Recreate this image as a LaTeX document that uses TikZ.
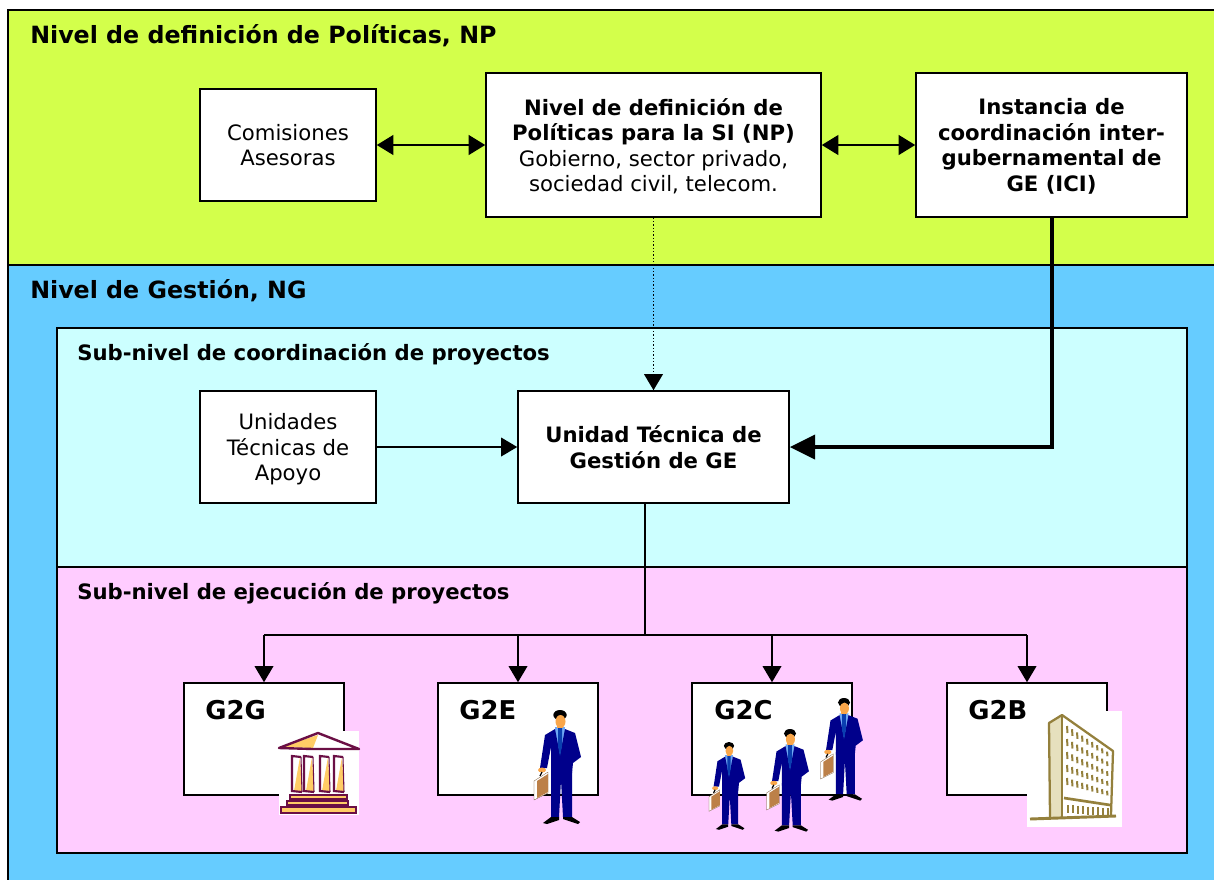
\documentclass[tikz,border=0pt]{standalone}
\usepackage{fontspec}
\setmainfont{DejaVu Sans}
\usetikzlibrary{arrows.meta}
\definecolor{npgreen}{HTML}{D3FF4B}
\definecolor{ngblue}{HTML}{66CCFF}
\definecolor{subcyan}{HTML}{CCFFFF}
\definecolor{subpink}{HTML}{FFCCFF}
\definecolor{suitblue}{HTML}{00008B}
\definecolor{tieblue}{HTML}{0A3FB0}
\definecolor{shirtblue}{HTML}{6FA8F5}
\definecolor{skin}{HTML}{F9A64A}
\definecolor{casebrown}{HTML}{BC8048}
\definecolor{templered}{HTML}{6B0F45}
\definecolor{templeyellow}{HTML}{FFCC66}
\definecolor{buildline}{HTML}{94803C}
\definecolor{buildside}{HTML}{E6E0BE}
\tikzset{
  band/.style={draw=black,line width=1pt,inner sep=0pt},
  box/.style={draw=black,fill=white,line width=1.2pt,inner sep=0pt,align=center,text depth=0pt,font=\fontsize{15.9}{19.1}\selectfont},
  gbox/.style={draw=black,fill=white,line width=1.2pt,inner sep=0pt,minimum width=120pt,minimum height=84pt},
  head/.style={anchor=west,inner sep=0pt,font=\fontsize{17.8}{19}\selectfont\bfseries},
  subhead/.style={anchor=west,inner sep=0pt,font=\fontsize{15.9}{19}\selectfont\bfseries},
  gname/.style={anchor=west,inner sep=0pt,font=\fontsize{19.4}{19}\selectfont\bfseries},
  small/.style={-{Triangle[length=12pt,width=14pt]},line width=1pt},
  both/.style={{Triangle[length=12.5pt,width=15pt]}-{Triangle[length=12.5pt,width=15pt]},line width=1.2pt},
  person/.pic={
    \fill[suitblue] (-9,60) -- (-9,107) -- (-1,107) -- (1,70) -- (3,107) -- (12,107) -- (12,60) -- cycle;
    \fill[black] (-9,107) -- (-1,107) -- (-1,110) -- (-13,114) -- (-17,113) -- cycle;
    \fill[black] (3,107) -- (12,107) -- (20,112) -- (18,114) -- (3,109) -- cycle;
    \fill[shirtblue] (-5,17) -- (5,17) -- (4,45) -- (-4,45) -- cycle;
    \fill[suitblue] (-5,19) -- (-15,25) -- (-20,58) -- (-13,58) -- (-9,37) -- (-9,63) -- (12,63) -- (13,53) -- (21,47) -- (15,23) -- (5,19) -- (0,45) -- cycle;
    \fill[tieblue] (-2,18) -- (2,18) -- (2,36) -- (0,46) -- (-2,36) -- cycle;
    \fill[skin] (-3,12) -- (3,12) -- (3,18) -- (-3,18) -- cycle;
    \fill[black] (0,5) ellipse (6.7 and 5);
    \fill[skin] (.5,11.5) ellipse (5 and 6.5);
    \fill[skin] (-18,60) ellipse (4 and 2.5);
    \filldraw[fill=white,draw=casebrown!60!black,line width=.2pt] (-26,71) -- (-12,62) -- (-12,83) -- (-26,90) -- cycle;
    \fill[casebrown] (-23,71) -- (-12,64) -- (-12,82) -- (-23,88) -- cycle;
    \draw[black,line width=.9pt] (-20,66) -- (-18,62);
  },
  temple/.pic={
    \fill[white] (0,0) rectangle (80,84);
    \fill[templeyellow] (2,16) -- (39,4) -- (34,17) -- cycle;
    \draw[templered,line width=1.8pt,line join=round] (0,17) -- (39,2) -- (80,18) -- (34,18) -- cycle;
    \foreach \colx in {13,25,41,55} {
      \fill[templeyellow] (\colx+8,26) -- (\colx+10,61) -- (\colx+2,60) -- cycle;
      \draw[templered,line width=1.6pt] (\colx+10,61) -- (\colx,60) -- (\colx,25) -- (\colx+9,26);
      \draw[templered,line width=.8pt] (\colx+10,61) -- (\colx+9,26);
    }
    \filldraw[fill=templeyellow,draw=templered,line width=1pt] (11,64) rectangle (68,68);
    \filldraw[fill=templeyellow,draw=templered,line width=1pt] (8,70) rectangle (69,74);
    \filldraw[fill=templeyellow,draw=templered,line width=1.2pt] (2,76) rectangle (77,82);
  },
  building/.pic={
    \fill[white] (0,0) rectangle (95,116);
    \fill[buildside] (22,12) -- (35,4) -- (35,106) -- (23,106) -- cycle;
    \draw[buildline,line width=1.7pt,line join=round] (23,106) -- (22,12) -- (35,4) -- (86,40) -- (84,104);
    \draw[buildline,line width=1.7pt] (35,4) -- (35,106);
    \draw[buildline,line width=2.2pt] (3,108) -- (89,105);
    \draw[buildline,line width=2pt] (37,87) -- (83,94);
    \foreach \rowi in {0,...,4} {
      \foreach \coli in {0,...,8} {
        \draw[buildline,line width=1.5pt] (40+5*\coli,{15+\coli*3.2+\rowi*(13-\coli*.4)}) -- ++(.5,7-.3*\coli);
      }
    }
    \foreach \coli in {0,...,8} {
      \draw[buildline,line width=1.5pt] (41+5*\coli,94+\coli*.4) -- ++(0,8);
    }
  }
}
\begin{document}
\begin{tikzpicture}[x=0.75pt,y=-0.75pt]
  \useasboundingbox (0,0) rectangle (1214,879);
  % levels
  \node (np) at (616,137.5) [band,fill=npgreen,minimum width=912pt,minimum height=191.25pt] {};
  \node (ng) at (616,577) [band,fill=ngblue,minimum width=912pt,minimum height=468pt] {};
  \node (coord) at (622,447.5) [band,fill=subcyan,minimum width=847.5pt,minimum height=179.25pt] {};
  \node (ejec) at (622,710) [band,fill=subpink,minimum width=847.5pt,minimum height=214.5pt] {};
  \node (nptitle) at (30,36) [head] {Nivel de definición de Políticas, NP};
  \node (ngtitle) at (30,291) [head] {Nivel de Gestión, NG};
  \node (coordtitle) at (77,354) [subhead] {Sub-nivel de coordinación de proyectos};
  \node (ejectitle) at (77,593) [subhead] {Sub-nivel de ejecución de proyectos};
  % boxes
  \node (comis) at (288,145) [box,minimum width=132pt,minimum height=84pt] {Comisiones\\Asesoras};
  \node (pol) at (653.5,145) [box,text depth=-1.5pt,minimum width=251.25pt,minimum height=108pt] {\textbf{Nivel de definición de}\\\textbf{Políticas para la SI (NP)}\\Gobierno, sector privado,\\sociedad civil, telecom.};
  \node (ici) at (1051.5,145) [box,minimum width=203.25pt,minimum height=108pt] {\textbf{Instancia de}\\\textbf{coordinación inter-}\\\textbf{gubernamental de}\\\textbf{GE (ICI)}};
  \node (apoyo) at (288,447) [box,minimum width=132pt,minimum height=84pt] {Unidades\\Técnicas de\\Apoyo};
  \node (unidad) at (653.5,447) [box,text depth=-1.5pt,minimum width=203.25pt,minimum height=84pt] {\textbf{Unidad Técnica de}\\\textbf{Gestión de GE}};
  \node (g2g) at (264,739) [gbox] {};
  \node (g2e) at (518,739) [gbox] {};
  \node (g2c) at (772,739) [gbox] {};
  \node (g2b) at (1027,739) [gbox] {};
  \node (g2gname) at (205,710) [gname] {G2G};
  \node (g2ename) at (459,710) [gname] {G2E};
  \node (g2cname) at (714,710) [gname] {G2C};
  \node (g2bname) at (968,710) [gname] {G2B};
  % connectors
  \coordinate (split) at (unidad.south |- 0,635);
  \coordinate (lft) at (g2g.north |- split);
  \coordinate (rgt) at (g2b.north |- split);
  \draw[both] (comis.east) to (pol.west);
  \draw[both] (pol.east) to (ici.west);
  \draw[small,dash pattern=on 1pt off 1.5pt] (pol.south) to (unidad.north);
  \draw[small] (apoyo.east) to (unidad.west);
  \draw[-{Triangle[length=19pt,width=18pt]},line width=3pt] (ici.south) |- (unidad.east);
  \draw[line width=1pt] (unidad.south -| 645,0) to (645,635);
  \draw[small] (lft) to (g2g.north);
  \draw[small] (g2e.north |- split) to (g2e.north);
  \draw[small] (g2c.north |- split) to (g2c.north);
  \draw[small] (rgt) to (g2b.north);
  \draw[line width=1pt] (lft) to (rgt);
  % pictures
  \pic at (279,731) {temple};
  \pic at (1027,711) {building};
  \pic at (560,710) {person};
  \pic[scale=.9] at (844,698) {person};
  \pic[scale=.9] at (790,729) {person};
  \pic[scale=.77] at (729,742) {person};
\end{tikzpicture}
\end{document}
